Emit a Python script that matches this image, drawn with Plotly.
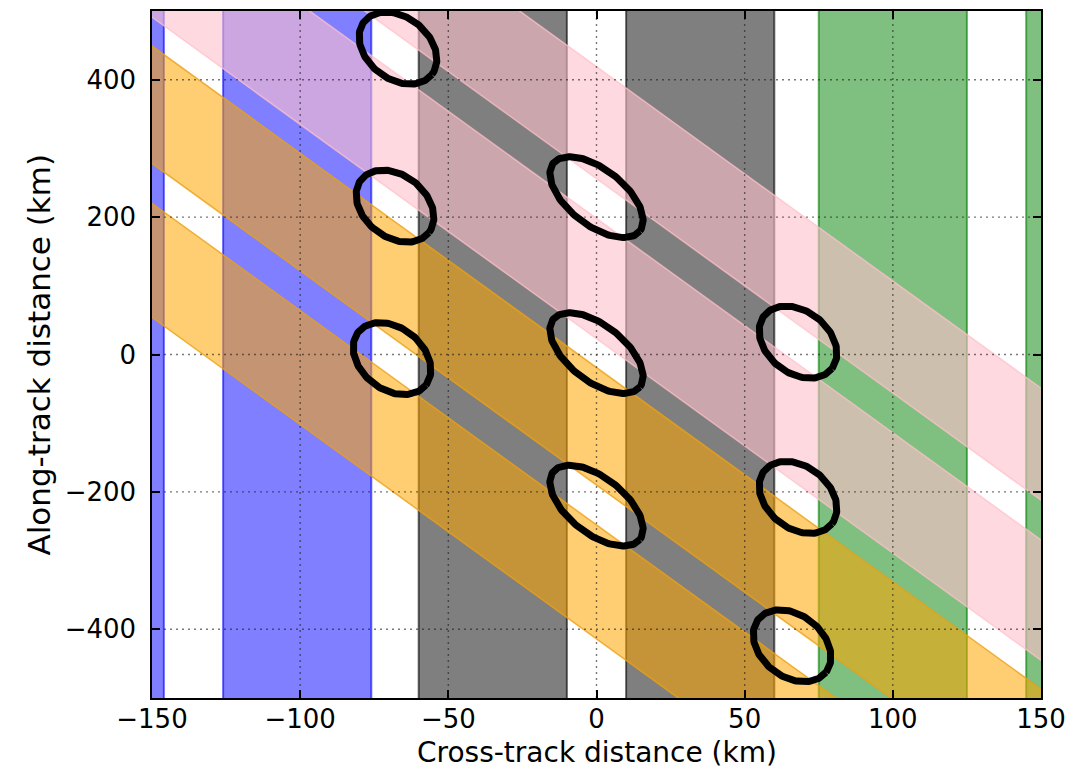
import numpy as np
import plotly.graph_objects as go

# ---------------- data ----------------
x_tick_vals = [-150, -100, -50, 0, 50, 100, 150]
x_tick_text = ["−150", "−100", "−50", "0", "50", "100", "150"]
y_tick_vals = [-400, -200, 0, 200, 400]
y_tick_text = ["−400", "−200", "0", "200", "400"]

# vertical swaths: cross-track limits (km)
blue_swaths = [(-196, -146), (-126, -76)]
gray_swaths = [(-60, -10), (10, 60)]
green_swaths = [(75, 125), (145, 195)]

# diagonal swaths: along-track value at cross-track 0 (upper edge, lower edge), km
diag_slope = -3.12
pink_swaths = [(419, 256), (198, 23)]
orange_swaths = [(-19, -190), (-248, -414)]

# crossover-gap ellipse centres (km)
ellipse_x = [-67, -68, -69, 0, 0, 0, 68, 68, 66]
ellipse_y = [446, 216, -6, 229, 2, -220, 18, -208, -424]
ellipse_wide = [False, False, False, True, True, True, False, False, False]

x_title = "Cross-track distance (km)"
y_title = "Along-track distance (km)"

# ---------------- layout constants ----------------
# the page body has an 8 px margin, so the figure is 8 px smaller on each side
W, H = 1080, 761
ML, MR, MT, MB = 144, 47, 3, 71
XR = [-150, 150]
YR = [-500, 500]
px_per_x = (W - ML - MR) / (XR[1] - XR[0])
px_per_y = (H - MT - MB) / (YR[1] - YR[0])

FONT = "DejaVu Sans, Liberation Sans, sans-serif"

fig = go.Figure()


def add_poly(xs, ys, fill, line, lw):
    fig.add_trace(go.Scatter(
        x=xs, y=ys, mode="lines", fill="toself", fillcolor=fill,
        line=dict(color=line, width=lw), hoverinfo="skip", showlegend=False))


# vertical swaths
for swaths, fc, lc in [
    (blue_swaths, "rgba(0,0,255,0.5)", "rgba(0,0,255,0.6)"),
    (gray_swaths, "rgba(0,0,0,0.5)", "rgba(0,0,0,0.6)"),
    (green_swaths, "rgba(0,128,0,0.5)", "rgba(0,128,0,0.6)"),
]:
    for x0, x1 in swaths:
        add_poly([x0, x1, x1, x0, x0], [-700, -700, 700, 700, -700], fc, lc, 2)

# diagonal swaths
xe = np.array([-220.0, 220.0])
for swaths, fc, lc in [
    (pink_swaths, "rgba(255,192,203,0.6)", "rgba(255,192,203,0.75)"),
    (orange_swaths, "rgba(255,165,0,0.55)", "rgba(235,160,20,0.8)"),
]:
    for b_up, b_lo in swaths:
        yu = diag_slope * xe + b_up
        yl = diag_slope * xe + b_lo
        add_poly([xe[0], xe[1], xe[1], xe[0], xe[0]],
                 [yu[0], yu[1], yl[1], yl[0], yu[0]], fc, lc, 1.5)

# dotted grid drawn above the fills
grid_line = dict(color="rgba(30,30,30,0.6)", width=1.4, dash="2px,4px")
for xv in x_tick_vals[1:-1]:
    fig.add_trace(go.Scatter(x=[xv, xv], y=YR, mode="lines", line=grid_line,
                             hoverinfo="skip", showlegend=False))
for yv in y_tick_vals:
    fig.add_trace(go.Scatter(x=XR, y=[yv, yv], mode="lines", line=grid_line,
                             hoverinfo="skip", showlegend=False))

# ellipses (shape defined in screen pixels, converted to data units)
t = np.linspace(0, 2 * np.pi, 181)
theta = np.deg2rad(38)
for cx, cy, wide in zip(ellipse_x, ellipse_y, ellipse_wide):
    a, b = (55, 28) if wide else (43, 31)
    dx = a * np.cos(t) * np.cos(theta) - b * np.sin(t) * np.sin(theta)
    dy = a * np.cos(t) * np.sin(theta) + b * np.sin(t) * np.cos(theta)
    fig.add_trace(go.Scatter(x=cx + dx / px_per_x, y=cy - dy / px_per_y, mode="lines",
                             line=dict(color="black", width=7),
                             hoverinfo="skip", showlegend=False))

axis_common = dict(
    showgrid=False, zeroline=False, showline=True, linecolor="black", linewidth=1.5,
    mirror="ticks", ticks="inside", ticklen=8, tickwidth=1.5, tickcolor="black",
    tickfont=dict(family=FONT, size=26, color="black"), automargin=False,
)

fig.update_layout(
    width=W, height=H,
    margin=dict(l=ML, r=MR, t=MT, b=MB, pad=0),
    paper_bgcolor="white", plot_bgcolor="white",
    xaxis=dict(range=XR, tickvals=x_tick_vals, ticktext=x_tick_text,
               ticklabelstandoff=-3, **axis_common),
    yaxis=dict(range=YR, tickvals=y_tick_vals, ticktext=y_tick_text,
               ticklabelstandoff=9, **axis_common),
    annotations=[
        dict(text=x_title, xref="paper", yref="paper", x=0.5, y=0,
             xanchor="center", yanchor="middle", yshift=-54, showarrow=False,
             borderpad=0, font=dict(family=FONT, size=28, color="black")),
        dict(text=y_title, xref="paper", yref="paper", x=0, y=0.5,
             xanchor="center", yanchor="middle", xshift=-114, textangle=-90, showarrow=False,
             borderpad=0, font=dict(family=FONT, size=31, color="black")),
    ],
)

fig.write_html("out.html")
